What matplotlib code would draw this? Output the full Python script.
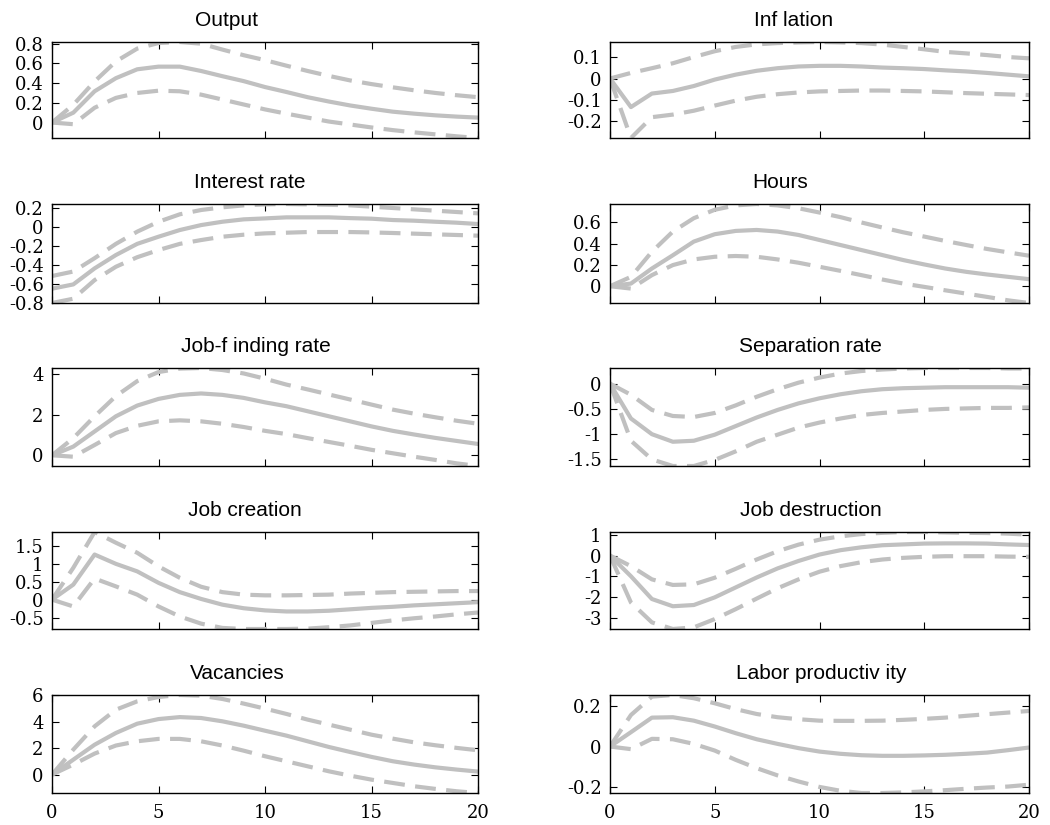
"""Impulse responses with error bands, 5x2 panel grid."""

import matplotlib
matplotlib.use("Agg")
import matplotlib.pyplot as plt
import numpy as np

horizon = np.arange(21)

output_mid = [0, 0.10, 0.317, 0.45, 0.54, 0.567, 0.567, 0.523, 0.47, 0.42, 0.36,
              0.31, 0.257, 0.213, 0.173, 0.14, 0.11, 0.09, 0.073, 0.06, 0.05]
output_hi = [0, 0.18, 0.417, 0.62, 0.75, 0.807, 0.817, 0.80, 0.74, 0.683, 0.633,
             0.577, 0.523, 0.473, 0.427, 0.39, 0.357, 0.327, 0.30, 0.277, 0.257]
output_lo = [0, -0.017, 0.15, 0.25, 0.30, 0.323, 0.317, 0.283, 0.233, 0.183, 0.133,
             0.09, 0.05, 0.01, -0.02, -0.05, -0.077, -0.10, -0.12, -0.14, -0.157]

inflation_mid = [0, -0.133, -0.07, -0.058, -0.035, -0.005, 0.018, 0.036, 0.048, 0.056, 0.059,
                 0.059, 0.056, 0.051, 0.048, 0.044, 0.038, 0.033, 0.026, 0.018, 0.01]
inflation_hi = [0, 0.026, 0.048, 0.071, 0.10, 0.127, 0.147, 0.159, 0.165, 0.168, 0.17,
                0.168, 0.165, 0.158, 0.147, 0.136, 0.124, 0.117, 0.109, 0.10, 0.094]
inflation_lo = [0, -0.277, -0.18, -0.168, -0.15, -0.126, -0.103, -0.085, -0.073, -0.065, -0.06,
                -0.058, -0.056, -0.056, -0.058, -0.06, -0.064, -0.068, -0.071, -0.074, -0.077]

rate_mid = [-0.65, -0.605, -0.437, -0.297, -0.18, -0.105, -0.035, 0.017, 0.052, 0.077, 0.087,
            0.098, 0.098, 0.098, 0.09, 0.084, 0.07, 0.063, 0.052, 0.042, 0.028]
rate_hi = [-0.517, -0.47, -0.33, -0.18, -0.052, 0.052, 0.13, 0.175, 0.203, 0.224, 0.234,
           0.238, 0.234, 0.23, 0.224, 0.21, 0.196, 0.182, 0.168, 0.154, 0.14]
rate_lo = [-0.80, -0.755, -0.56, -0.42, -0.32, -0.245, -0.18, -0.14, -0.105, -0.084, -0.07,
           -0.063, -0.056, -0.056, -0.056, -0.06, -0.066, -0.073, -0.08, -0.087, -0.094]

hours_mid = [0, 0.025, 0.166, 0.29, 0.418, 0.487, 0.518, 0.527, 0.512, 0.48, 0.433,
             0.386, 0.339, 0.292, 0.245, 0.204, 0.166, 0.135, 0.11, 0.088, 0.066]
hours_hi = [0, 0.088, 0.323, 0.512, 0.637, 0.716, 0.757, 0.77, 0.757, 0.73, 0.69,
            0.647, 0.597, 0.55, 0.505, 0.465, 0.424, 0.386, 0.349, 0.317, 0.286]
hours_lo = [0, -0.022, 0.104, 0.198, 0.251, 0.276, 0.283, 0.276, 0.251, 0.22, 0.182,
            0.144, 0.104, 0.063, 0.025, -0.006, -0.038, -0.069, -0.10, -0.132, -0.157]

jobfind_mid = [0, 0.43, 1.18, 1.93, 2.46, 2.79, 2.99, 3.06, 2.99, 2.84, 2.62,
               2.43, 2.18, 1.93, 1.68, 1.43, 1.21, 1.03, 0.86, 0.71, 0.56]
jobfind_hi = [0, 0.85, 1.93, 2.93, 3.67, 4.12, 4.29, 4.32, 4.22, 4.05, 3.79,
              3.50, 3.26, 3.01, 2.76, 2.51, 2.26, 2.06, 1.88, 1.71, 1.56]
jobfind_lo = [0, -0.07, 0.51, 1.10, 1.46, 1.68, 1.73, 1.68, 1.56, 1.40, 1.21,
              1.05, 0.85, 0.66, 0.47, 0.27, 0.10, -0.07, -0.23, -0.40, -0.53]

separation_mid = [0, -0.69, -1.0, -1.15, -1.13, -1.01, -0.84, -0.67, -0.52, -0.39, -0.29,
                  -0.21, -0.15, -0.11, -0.09, -0.08, -0.07, -0.07, -0.07, -0.07, -0.08]
separation_hi = [0, -0.22, -0.52, -0.64, -0.66, -0.58, -0.43, -0.26, -0.11, 0.02, 0.12,
                 0.20, 0.25, 0.28, 0.30, 0.31, 0.31, 0.31, 0.31, 0.30, 0.30]
separation_lo = [0, -1.13, -1.50, -1.63, -1.63, -1.51, -1.34, -1.15, -1.01, -0.87, -0.77,
                 -0.69, -0.62, -0.58, -0.55, -0.52, -0.50, -0.49, -0.48, -0.48, -0.47]

creation_mid = [0, 0.42, 1.26, 1.0, 0.79, 0.47, 0.21, 0.02, -0.14, -0.24, -0.30,
                -0.33, -0.33, -0.31, -0.27, -0.23, -0.20, -0.16, -0.13, -0.10, -0.07]
creation_hi = [0, 0.89, 1.89, 1.59, 1.31, 0.93, 0.61, 0.36, 0.21, 0.14, 0.12,
               0.12, 0.13, 0.14, 0.17, 0.19, 0.21, 0.22, 0.23, 0.24, 0.24]
creation_lo = [0, -0.19, 0.59, 0.37, 0.14, -0.19, -0.47, -0.67, -0.79, -0.82, -0.82,
               -0.82, -0.81, -0.77, -0.72, -0.65, -0.58, -0.52, -0.47, -0.41, -0.36]

destruction_mid = [0, -1.0, -2.1, -2.45, -2.39, -2.02, -1.54, -1.06, -0.62, -0.26, 0.05,
                   0.26, 0.40, 0.50, 0.54, 0.58, 0.59, 0.59, 0.58, 0.54, 0.51]
destruction_hi = [0, -0.51, -1.15, -1.42, -1.39, -1.07, -0.64, -0.19, 0.21, 0.53, 0.77,
                  0.93, 1.04, 1.10, 1.14, 1.14, 1.12, 1.10, 1.09, 1.06, 1.01]
destruction_lo = [0, -2.27, -3.23, -3.55, -3.47, -3.07, -2.59, -2.08, -1.58, -1.15, -0.78,
                  -0.51, -0.32, -0.19, -0.11, -0.06, -0.03, -0.03, -0.03, -0.05, -0.06]

vacancies_mid = [0, 1.13, 2.26, 3.15, 3.85, 4.20, 4.35, 4.28, 4.03, 3.70, 3.32,
                 2.95, 2.52, 2.09, 1.71, 1.34, 1.01, 0.76, 0.55, 0.38, 0.23]
vacancies_hi = [0, 1.89, 3.65, 4.91, 5.54, 5.87, 6.02, 5.97, 5.72, 5.37, 4.99,
                4.59, 4.16, 3.78, 3.40, 3.02, 2.72, 2.44, 2.22, 2.02, 1.84]
vacancies_lo = [0, 0.76, 1.59, 2.20, 2.52, 2.70, 2.70, 2.52, 2.20, 1.81, 1.39,
                1.01, 0.63, 0.25, -0.08, -0.38, -0.63, -0.88, -1.08, -1.26, -1.39]

productivity_mid = [0, 0.071, 0.143, 0.145, 0.128, 0.099, 0.066, 0.036, 0.013, -0.008, -0.025,
                    -0.036, -0.043, -0.046, -0.046, -0.044, -0.041, -0.036, -0.03, -0.018, -0.005]
productivity_hi = [0, 0.156, 0.247, 0.255, 0.239, 0.214, 0.185, 0.161, 0.145, 0.135, 0.128,
                   0.127, 0.127, 0.128, 0.132, 0.137, 0.143, 0.152, 0.16, 0.168, 0.176]
productivity_lo = [0, -0.013, 0.038, 0.036, 0.013, -0.02, -0.066, -0.107, -0.143, -0.173, -0.20,
                   -0.219, -0.23, -0.23, -0.227, -0.222, -0.216, -0.209, -0.203, -0.198, -0.189]

titles = ["Output", "Inf lation", "Interest rate", "Hours", "Job-f inding rate",
          "Separation rate", "Job creation", "Job destruction", "Vacancies",
          "Labor productiv ity"]
yticks = [
    [0, 0.2, 0.4, 0.6, 0.8],
    [-0.2, -0.1, 0, 0.1],
    [-0.8, -0.6, -0.4, -0.2, 0, 0.2],
    [0, 0.2, 0.4, 0.6],
    [0, 2, 4],
    [-1.5, -1, -0.5, 0],
    [-0.5, 0, 0.5, 1, 1.5],
    [-3, -2, -1, 0, 1],
    [0, 2, 4, 6],
    [-0.2, 0, 0.2],
]
xticks = [0, 5, 10, 15, 20]

series = [
    (output_mid, output_hi, output_lo),
    (inflation_mid, inflation_hi, inflation_lo),
    (rate_mid, rate_hi, rate_lo),
    (hours_mid, hours_hi, hours_lo),
    (jobfind_mid, jobfind_hi, jobfind_lo),
    (separation_mid, separation_hi, separation_lo),
    (creation_mid, creation_hi, creation_lo),
    (destruction_mid, destruction_hi, destruction_lo),
    (vacancies_mid, vacancies_hi, vacancies_lo),
    (productivity_mid, productivity_hi, productivity_lo),
]

LINE_COLOR = "#c0c0c0"
W, H = 1050, 825
# pixel boxes of the panels (left, right) per column and (top, bottom) per row
col_px = [(52, 478), (610, 1029)]
row_px = [(42, 138), (204, 303), (368, 466), (532, 629), (695, 793)]
# titles are not exactly centred over their panels in the original
title_x_px = [226, 794, 250, 780, 256, 810, 245, 811, 237, 821]

plt.rcParams.update({
    "font.family": "DejaVu Serif",
    "font.size": 13,
    "axes.linewidth": 1.0,
    "xtick.direction": "in",
    "ytick.direction": "in",
    "xtick.top": True,
    "ytick.right": True,
    "xtick.major.size": 5,
    "ytick.major.size": 5,
})

fig = plt.figure(figsize=(W / 100, H / 100), dpi=100)

for i, (title, (mid, hi, lo)) in enumerate(zip(titles, series)):
    r, c = divmod(i, 2)
    x0, x1 = col_px[c]
    y0, y1 = row_px[r]
    ax = fig.add_axes([x0 / W, 1 - y1 / H, (x1 - x0) / W, (y1 - y0) / H])
    ax.plot(horizon, mid, color=LINE_COLOR, linewidth=3)
    ax.plot(horizon, hi, color=LINE_COLOR, linewidth=3, linestyle=(0, (5, 2.5)))
    ax.plot(horizon, lo, color=LINE_COLOR, linewidth=3, linestyle=(0, (5, 2.5)))
    ymin = min(min(mid), min(hi), min(lo))
    ymax = max(max(mid), max(hi), max(lo))
    ax.set_xlim(0, 20)
    ax.set_ylim(ymin, ymax)
    ax.set_xticks(xticks)
    ax.set_yticks(yticks[i])
    ax.set_yticklabels([f"{v:g}" for v in yticks[i]])
    if r < 4:
        ax.set_xticklabels([])
    ax.tick_params(axis="y", labelsize=13, pad=6, width=0.8)
    ax.tick_params(axis="x", labelsize=13, pad=8, width=0.8)
    ax.text((title_x_px[i] - x0) / (x1 - x0), 1 + 12 / (y1 - y0), title,
            transform=ax.transAxes, ha="center", va="bottom",
            family="Liberation Sans", fontsize=15)

fig.savefig("out.png", dpi=100)
